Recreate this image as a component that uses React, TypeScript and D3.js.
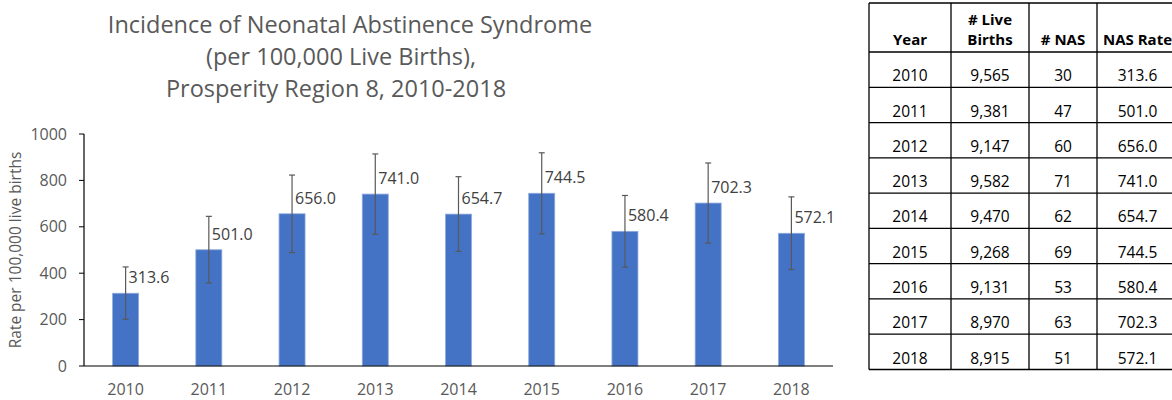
import React from "react";
import * as d3 from "d3";

const years = ["2010", "2011", "2012", "2013", "2014", "2015", "2016", "2017", "2018"];
const liveBirths = ["9,565", "9,381", "9,147", "9,582", "9,470", "9,268", "9,131", "8,970", "8,915"];
const nasCounts = ["30", "47", "60", "71", "62", "69", "53", "63", "51"];
const nasRates = [313.6, 501.0, 656.0, 741.0, 654.7, 744.5, 580.4, 702.3, 572.1];
const ciLower = [201, 358, 489, 568, 494, 570, 426, 530, 416];
const ciUpper = [427, 645, 823, 914, 816, 919, 735, 875, 729];
const yTicks = [0, 200, 400, 600, 800, 1000];
const titleLines = [
  "Incidence of Neonatal Abstinence Syndrome",
  "(per 100,000 Live Births),",
  "Prosperity Region 8, 2010-2018",
];
const titleCenters = [350, 341, 336];
const yAxisTitle = "Rate per 100,000 live births";
const tableHeaders = [["Year"], ["# Live", "Births"], ["# NAS"], ["NAS Rate"]];

const FONT = "'Open Sans', 'Noto Sans', sans-serif";
const GREY = "#595959";

export default function App() {
  const W = 1172, H = 400;
  const x = d3.scaleBand<string>().domain(years).range([84, 833]).paddingInner(0.6875).paddingOuter(0.34375);
  const y = d3.scaleLinear().domain([0, 1000]).range([366, 134]);
  const bw = x.bandwidth();

  // table geometry
  const colEdges = [869, 951, 1029, 1097, 1178];
  const headTop = 3, headBottom = 52, rowH = (369.5 - 52) / years.length;
  const tableRows = years.map((yr, i) => [yr, liveBirths[i], nasCounts[i], nasRates[i].toFixed(1)]);

  return (
    <div style={{ position: "absolute", left: 0, top: 0 }}>
      <svg width={W} height={H} style={{ display: "block", background: "#fff" }} fontFamily={FONT}>
        {titleLines.map((t, i) => (
          <text key={t} x={titleCenters[i]} y={33 + i * 32} textAnchor="middle" fontSize={23.5} fill={GREY}>
            {t}
          </text>
        ))}
        <text transform="translate(21,250) rotate(-90)" textAnchor="middle" fontSize={15.5} fill={GREY}>
          {yAxisTitle}
        </text>
        {yTicks.map((t) => (
          <g key={t}>
            <line x1={79} x2={84} y1={y(t)} y2={y(t)} stroke="#000" strokeWidth={1} />
            <text x={67} y={y(t)} dy="0.35em" textAnchor="end" fontSize={16} fill={GREY}>
              {t}
            </text>
          </g>
        ))}
        {years.map((yr, i) => {
          const cx = (x(yr) as number) + bw / 2;
          return (
            <g key={yr}>
              <rect x={x(yr)} y={y(nasRates[i])} width={bw} height={y(0) - y(nasRates[i])} fill="#4472C4" stroke="#8FAADC" strokeWidth={0.8} />
              <line x1={cx} x2={cx} y1={y(ciLower[i])} y2={y(ciUpper[i])} stroke="#595959" strokeWidth={1.2} />
              <line x1={cx - 3} x2={cx + 3} y1={y(ciLower[i])} y2={y(ciLower[i])} stroke="#595959" strokeWidth={1.2} />
              <line x1={cx - 3} x2={cx + 3} y1={y(ciUpper[i])} y2={y(ciUpper[i])} stroke="#595959" strokeWidth={1.2} />
              <text x={cx + 3} y={y(nasRates[i]) - 10} fontSize={16} fill="#404040">
                {nasRates[i].toFixed(1)}
              </text>
              <text x={cx} y={395} textAnchor="middle" fontSize={16} fill={GREY}>
                {yr}
              </text>
            </g>
          );
        })}
        <line x1={84} x2={84} y1={y(1000)} y2={y(0)} stroke="#000" strokeWidth={1.2} />
        <line x1={84} x2={833} y1={y(0)} y2={y(0)} stroke="#000" strokeWidth={1.2} />

        {/* table */}
        <g>
          {tableHeaders.map((lines, c) => {
            const cx = (colEdges[c] + colEdges[c + 1]) / 2;
            return lines.map((ln, k) => (
              <text key={c + "-" + k} x={cx} y={45 - (lines.length - 1 - k) * 20} textAnchor="middle" fontSize={15} fontWeight="bold" fill="#000">
                {ln}
              </text>
            ));
          })}
          {tableRows.map((row, r) =>
            row.map((cell, c) => (
              <text key={r + "-" + c} x={(colEdges[c] + colEdges[c + 1]) / 2} y={headBottom + (r + 1) * rowH - 6} textAnchor="middle" fontSize={15.5} fill="#000">
                {cell}
              </text>
            ))
          )}
          {colEdges.map((cx, i) => (
            <line key={"v" + i} x1={cx} x2={cx} y1={headTop} y2={headBottom + years.length * rowH} stroke="#000" strokeWidth={1.3} />
          ))}
          <line x1={colEdges[0]} x2={colEdges[4]} y1={headTop} y2={headTop} stroke="#000" strokeWidth={1.3} />
          {d3.range(years.length + 1).map((r) => (
            <line key={"h" + r} x1={colEdges[0]} x2={colEdges[4]} y1={headBottom + r * rowH} y2={headBottom + r * rowH} stroke="#000" strokeWidth={1.3} />
          ))}
        </g>
      </svg>
    </div>
  );
}
